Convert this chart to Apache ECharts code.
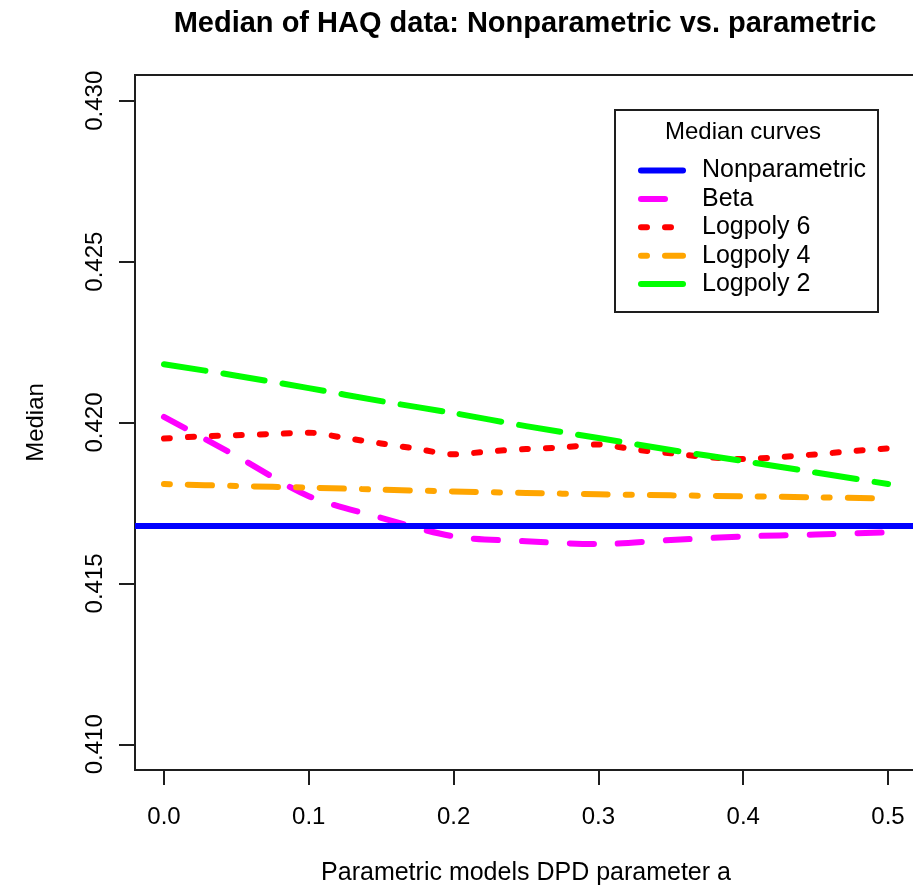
<!DOCTYPE html>
<html>
<head>
<meta charset="utf-8">
<title>Median of HAQ data</title>
<script src="https://cdn.jsdelivr.net/npm/echarts@6/dist/echarts.min.js"></script>
<style>
  html, body { margin: 0; padding: 0; background: #ffffff; }
  #chart { width: 913px; height: 887px; }
</style>
</head>
<body>
<div id="chart"></div>
<script>
// DPD parameter a at which the parametric medians were evaluated
const aGrid = [0, 0.05, 0.1, 0.15, 0.2, 0.25, 0.3, 0.35, 0.4, 0.45, 0.5];
const aGridFine = [0, 0.025, 0.05, 0.075, 0.1, 0.125, 0.15, 0.175, 0.2, 0.225, 0.25,
                   0.275, 0.3, 0.325, 0.35, 0.375, 0.4, 0.425, 0.45, 0.475, 0.5];

// Plot limits (data range padded by 4% on each side)
const xLimits = [-0.02, 0.52];
const yLimits = [0.4092, 0.4308];

// Median curves
const nonparametricMedian = 0.416787;
const betaMedian = [0.420177, 0.418961, 0.417711, 0.417038, 0.416461, 0.416309,
                    0.416222, 0.416346, 0.416458, 0.416520, 0.416585];
const logpoly6Median = [0.419501, 0.419566, 0.419606, 0.419643, 0.419684, 0.419519,
                        0.419349, 0.419181, 0.419011, 0.419104, 0.419175, 0.419225,
                        0.419318, 0.419160, 0.419042, 0.418927, 0.418865, 0.418924,
                        0.419011, 0.419107, 0.419197];
const logpoly4Median = [0.418089, 0.418027, 0.417975, 0.417913, 0.417857, 0.417810,
                        0.417770, 0.417736, 0.417708, 0.417674, 0.417640];
const logpoly2Median = [0.421812, 0.421455, 0.421067, 0.420664, 0.420292, 0.419888,
                        0.419516, 0.419144, 0.418803, 0.418446, 0.418089];

// Axis ticks
const xTicks = [0, 0.1, 0.2, 0.3, 0.4, 0.5];
const yTicks = [0.410, 0.415, 0.420, 0.425, 0.430];

const legendNames = ['Nonparametric', 'Beta', 'Logpoly 6', 'Logpoly 4', 'Logpoly 2'];

const FONT = '"Liberation Sans", Arial, Helvetica, sans-serif';
const INK = '#1e1e1e';
const LW = 6;

function pairs(xs, ys) {
  return xs.map((x, i) => [x, ys[i]]);
}

// R-style line types, scaled by the line width
function curve(name, xs, ys, color, dash, z) {
  return {
    name: name,
    type: 'line',
    data: pairs(xs, ys),
    symbol: 'none',
    smooth: 0.3,
    z: z,
    silent: true,
    lineStyle: { color: color, width: LW, type: dash, cap: 'round', join: 'round' },
    itemStyle: { color: color },
    emphasis: { disabled: true }
  };
}

const chart = echarts.init(document.getElementById('chart'), null, { renderer: 'canvas' });

const option = {
  animation: false,
  backgroundColor: '#ffffff',
  title: {
    text: 'Median of HAQ data: Nonparametric vs. parametric',
    left: 520,
    top: 4,
    textAlign: 'center',
    textStyle: { fontFamily: FONT, fontSize: 29, fontWeight: 'bold', color: '#000' }
  },
  grid: {
    left: 135, top: 75, width: 782, height: 695,
    outerBoundsMode: 'none',
    containLabel: false,
    show: true, borderColor: INK, borderWidth: 2, backgroundColor: 'transparent'
  },
  xAxis: {
    type: 'value',
    min: xLimits[0],
    max: xLimits[1],
    name: 'Parametric models DPD parameter a',
    nameLocation: 'middle',
    nameGap: 91,
    nameTextStyle: { fontFamily: FONT, fontSize: 25, color: '#000' },
    axisLine: { show: false, onZero: false },
    splitLine: { show: false },
    axisTick: { show: true, length: 15, customValues: xTicks, lineStyle: { color: INK, width: 2 } },
    axisLabel: {
      customValues: xTicks,
      formatter: v => v.toFixed(1),
      margin: 35,
      fontFamily: FONT, fontSize: 24, color: '#000'
    }
  },
  yAxis: {
    type: 'value',
    min: yLimits[0],
    max: yLimits[1],
    name: 'Median',
    nameLocation: 'middle',
    nameGap: 87,
    nameTextStyle: { fontFamily: FONT, fontSize: 24, color: '#000' },
    axisLine: { show: false, onZero: false },
    splitLine: { show: false },
    axisTick: { show: true, length: 16, customValues: yTicks, lineStyle: { color: INK, width: 2 } },
    axisLabel: {
      customValues: yTicks,
      rotate: 90,
      formatter: v => v.toFixed(3),
      margin: 28,
      fontFamily: FONT, fontSize: 24, color: '#000'
    }
  },
  legend: {
    data: legendNames,
    orient: 'vertical',
    left: 638,
    top: 158,
    padding: 0,
    itemWidth: 42,
    itemHeight: 14,
    itemGap: 3.4,
    selectedMode: false,
    lineStyle: { width: LW, cap: 'round' },
    itemStyle: { opacity: 0, color: 'transparent', borderWidth: 0 },
    textStyle: { fontFamily: FONT, fontSize: 25, color: '#000', padding: [0, 0, 0, 14] }
  },
  graphic: [
    {
      type: 'rect',
      shape: { x: 615, y: 110, width: 263, height: 202 },
      style: { fill: 'none', stroke: INK, lineWidth: 2 },
      silent: true
    },
    {
      type: 'text',
      x: 743,
      y: 132,
      style: {
        text: 'Median curves',
        font: '24px ' + FONT,
        fill: '#000',
        align: 'center', verticalAlign: 'middle',
        textAlign: 'center', textVerticalAlign: 'middle'
      },
      silent: true
    }
  ],
  series: [
    curve('Beta', aGrid, betaMedian, '#ff00ff', [24, 24], 2),
    curve('Logpoly 6', aGridFine, logpoly6Median, '#ff0000', [6, 18], 3),
    curve('Logpoly 4', aGrid, logpoly4Median, '#ffa500', [6, 18, 24, 18], 4),
    curve('Logpoly 2', aGrid, logpoly2Median, '#00ff00', [42, 18], 5),
    {
      // horizontal reference line across the whole plot
      name: 'Nonparametric',
      type: 'line',
      data: xLimits.map(x => [x, nonparametricMedian]),
      symbol: 'none',
      z: 6,
      silent: true,
      lineStyle: { color: '#0000ff', width: LW, type: 'solid', cap: 'butt' },
      itemStyle: { color: '#0000ff' },
      emphasis: { disabled: true }
    }
  ]
};

chart.setOption(option);
</script>
</body>
</html>
